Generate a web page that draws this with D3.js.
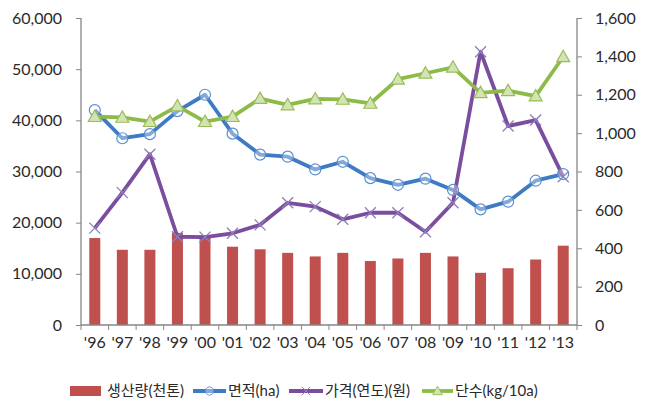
<!DOCTYPE html>
<html><head><meta charset="utf-8">
<script src="https://cdn.jsdelivr.net/npm/d3@7"></script>
<style>body{margin:0;background:#fff}svg{display:block}text{font-family:Lato,"Noto Sans CJK KR",sans-serif}</style>
</head><body><svg id="c" width="650" height="407"></svg>
<script>
const years = ["'96","'97","'98","'99","'00","'01","'02","'03","'04","'05","'06","'07","'08","'09","'10","'11","'12","'13"];
const production = [17000,14700,14700,18000,17500,15300,14800,14100,13400,14100,12500,13000,14100,13400,10200,11100,12800,15500];
const area = [42000,36500,37300,41800,45000,37400,33300,32900,30400,31900,28700,27400,28600,26400,22600,24100,28200,29500];
const price = [505,690,890,460,458,478,522,637,617,551,585,585,486,637,1424,1037,1068,773];
const yieldPer = [1086,1082,1060,1141,1060,1086,1180,1147,1178,1176,1155,1281,1312,1343,1210,1221,1193,1398];
const leftTicks = [0,10000,20000,30000,40000,50000,60000];
const rightTicks = [0,200,400,600,800,1000,1200,1400,1600];
const legendLabels = ["생산량(천톤)","면적(ha)","가격(연도)(원)","단수(kg/10a)"];

const svg = d3.select("#c");
const L=81, R=577, T=18, B=325;
const x = d3.scaleBand().domain(years).range([L,R]);
const yL = d3.scaleLinear().domain([0,60000]).range([B,T]);
const yR = d3.scaleLinear().domain([0,1600]).range([B,T]);
const fmt = d3.format(",");
const cx = d => x(d)+x.bandwidth()/2;

// bars
svg.append("g").selectAll("rect").data(production).join("rect")
  .attr("x",(d,i)=>cx(years[i])-5.5).attr("width",11)
  .attr("y",d=>yL(d)).attr("height",d=>B-yL(d)).attr("fill","#C0504D");

// axes
const axCol="#868686";
const gl = svg.append("g").attr("transform",`translate(${L},0)`).call(d3.axisLeft(yL).tickValues(leftTicks).tickFormat(fmt).tickSize(5).tickPadding(14));
const gr = svg.append("g").attr("transform",`translate(${R},0)`).call(d3.axisRight(yR).tickValues(rightTicks).tickFormat(fmt).tickSize(5).tickPadding(13));
const xAx = d3.axisBottom(x).tickSize(0).tickPadding(12);
const gb = svg.append("g").attr("transform",`translate(0,${B})`).call(xAx);
// boundary ticks
svg.append("g").selectAll("line").data(d3.range(years.length+1)).join("line")
  .attr("x1",i=>L+i*x.step()).attr("x2",i=>L+i*x.step()).attr("y1",B).attr("y2",B+5).attr("stroke",axCol);
[gl,gr,gb].forEach(g=>{g.select(".domain").attr("stroke",axCol).attr("stroke-width",1.3);g.selectAll(".tick line").attr("stroke",axCol);g.selectAll("text").attr("fill","#2a2a2a").attr("font-size",16);});
gl.select(".domain").attr("d",`M0,${T}V${B}`);
gr.select(".domain").attr("d",`M0,${T}V${B}`);
gb.select(".domain").attr("d",`M${L},0H${R}`);

const lineCol={area:"#3F7BC4",price:"#7A4D9E",yield:"#8DBB47"};
function drawLine(data, ys, col){
  svg.append("path").datum(data).attr("fill","none").attr("stroke",col).attr("stroke-width",3.8).attr("stroke-linejoin","round")
    .attr("d",d3.line().x((d,i)=>cx(years[i])).y(d=>ys(d)));
}
drawLine(area,yL,lineCol.area);
drawLine(price,yR,lineCol.price);
drawLine(yieldPer,yR,lineCol.yield);

// markers
function circleM(g,xx,yy){g.append("circle").attr("cx",xx).attr("cy",yy).attr("r",5.5).attr("fill","#fff").attr("fill-opacity",0.35).attr("stroke","#5B8FD0").attr("stroke-width",1.2);}
function crossM(g,xx,yy){const s=5.5;g.append("path").attr("d",`M${xx-s},${yy-s}L${xx+s},${yy+s}M${xx-s},${yy+s}L${xx+s},${yy-s}`).attr("stroke","#8C7FBA").attr("stroke-width",1.3);}
function triM(g,xx,yy){const s=6.5;g.append("path").attr("d",`M${xx},${yy-s}L${xx+s},${yy+s*0.75}L${xx-s},${yy+s*0.75}Z`).attr("fill","#D3E4B4").attr("stroke","#9BBB59").attr("stroke-width",1.2);}
const mg=svg.append("g");
area.forEach((d,i)=>circleM(mg,cx(years[i]),yL(d)));
price.forEach((d,i)=>crossM(mg,cx(years[i]),yR(d)));
yieldPer.forEach((d,i)=>triM(mg,cx(years[i]),yR(d)));

// legend
const ly=391;
const lg=svg.append("g");
lg.append("rect").attr("x",70).attr("y",ly-5).attr("width",31).attr("height",10).attr("fill","#C0504D");
lg.append("text").attr("x",107).attr("y",ly).attr("dy","0.35em").attr("font-size",15).attr("fill","#2a2a2a").text(legendLabels[0]);
[[193,226,lineCol.area,circleM,1],[289,323,lineCol.price,crossM,2],[422,453,lineCol.yield,triM,3]].forEach(([a,b,col,m,k])=>{
  lg.append("line").attr("x1",a).attr("x2",b).attr("y1",ly).attr("y2",ly).attr("stroke",col).attr("stroke-width",3.8);
  const g=lg.append("g"); m(g,(a+b)/2,ly);
  g.selectAll("*").attr("transform",`translate(${(a+b)/2},${ly}) scale(0.75) translate(${-(a+b)/2},${-ly})`);
  lg.append("text").attr("x",b+2).attr("y",ly).attr("dy","0.35em").attr("font-size",15).attr("fill","#2a2a2a").text(legendLabels[k]);
});
</script></body></html>
